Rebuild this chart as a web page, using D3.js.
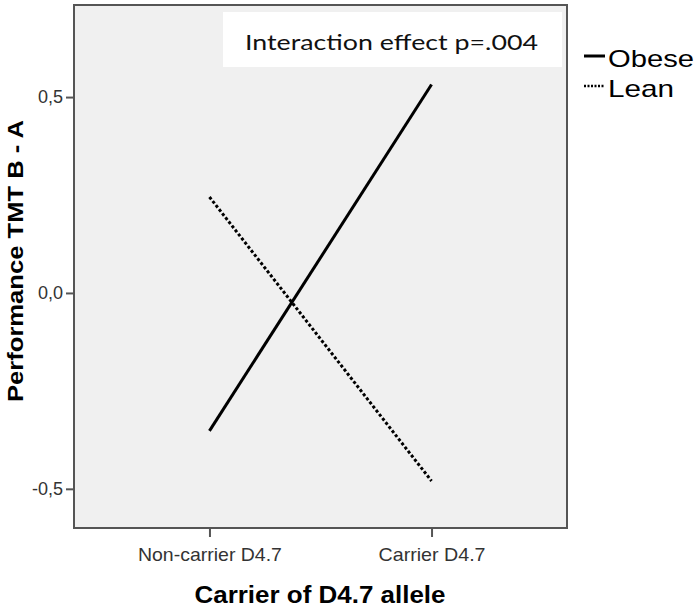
<!DOCTYPE html>
<html><head><meta charset="utf-8">
<script src="https://cdn.jsdelivr.net/npm/d3@7"></script>
<style>body{margin:0;background:#fff;} svg{display:block;}</style>
</head><body>
<svg id="c" width="700" height="608"></svg>
<script>
const categories = ["Non-carrier D4.7", "Carrier D4.7"];
const obese = [-0.352, 0.532];
const lean = [0.245, -0.48];
const seriesNames = ["Obese", "Lean"];
const yTicks = [-0.5, 0.0, 0.5];
const annotation = "Interaction effect p=.004";

const svg = d3.select("#c");
const L = 74, R = 567, T = 5, B = 528;
const x = d3.scalePoint().domain(categories).range([L, R]).padding(0.61);
const y = d3.scaleLinear().domain([-0.6, 0.735]).range([B, T]);
const AR = "Liberation Sans, Arial, sans-serif";

svg.append("rect").attr("x", L).attr("y", T).attr("width", R - L).attr("height", B - T)
  .attr("fill", "#f0f0f0");

// annotation box
svg.append("rect").attr("x", 223).attr("y", 12).attr("width", 339).attr("height", 55).attr("fill", "#fff");
svg.append("text").attr("x", 245).attr("y", 50)
  .attr("font-family", "Lato, 'Open Sans', sans-serif").attr("font-size", 22).attr("fill", "#111")
  .attr("textLength", 293).attr("lengthAdjust", "spacingAndGlyphs")
  .text(annotation);

const line = d3.line().x((d, i) => x(categories[i])).y(d => y(d));
svg.append("path").datum(obese).attr("d", line).attr("fill", "none")
  .attr("stroke", "#000").attr("stroke-width", 3);
svg.append("path").datum(lean).attr("d", line).attr("fill", "none")
  .attr("stroke", "#000").attr("stroke-width", 3).attr("stroke-dasharray", "3,2.2");

// frame
svg.append("rect").attr("x", L).attr("y", T).attr("width", R - L).attr("height", B - T)
  .attr("fill", "none").attr("stroke", "#555").attr("stroke-width", 2);

const fmt = v => d3.format(".1f")(v).replace(".", ",").replace("−", "-");
const yAxis = svg.append("g").attr("transform", `translate(${L},0)`)
  .call(d3.axisLeft(y).tickValues(yTicks).tickSize(8).tickSizeOuter(0).tickFormat(fmt));
yAxis.select(".domain").remove();
yAxis.selectAll("line").attr("stroke", "#555").attr("stroke-width", 2);
yAxis.selectAll("text").attr("font-family", AR)
  .attr("font-size", 18).attr("fill", "#333").attr("x", -11);

const xLabelWidths = {"Non-carrier D4.7": 144, "Carrier D4.7": 107};
const xAxis = svg.append("g").attr("transform", `translate(0,${B})`)
  .call(d3.axisBottom(x).tickSize(9).tickSizeOuter(0));
xAxis.select(".domain").remove();
xAxis.selectAll("line").attr("stroke", "#555").attr("stroke-width", 2);
xAxis.selectAll("text").attr("font-family", AR)
  .attr("font-size", 19).attr("fill", "#333").attr("y", 20).attr("dy", "0.7em")
  .attr("textLength", d => xLabelWidths[d]).attr("lengthAdjust", "spacingAndGlyphs");

svg.append("text").attr("x", 320).attr("y", 603).attr("text-anchor", "middle")
  .attr("font-family", AR).attr("font-weight", "bold")
  .attr("font-size", 23).attr("fill", "#000")
  .attr("textLength", 251).attr("lengthAdjust", "spacingAndGlyphs")
  .text("Carrier of D4.7 allele");
svg.append("text").attr("transform", "translate(23,261) rotate(-90)").attr("text-anchor", "middle")
  .attr("font-family", AR).attr("font-weight", "bold")
  .attr("font-size", 22).attr("fill", "#000")
  .attr("textLength", 282).attr("lengthAdjust", "spacingAndGlyphs")
  .text("Performance TMT B - A");

// legend
const legW = [86, 66];
const leg = svg.append("g");
seriesNames.forEach((n, i) => {
  const yy = 56 + i * 30;
  leg.append("line").attr("x1", 584).attr("x2", 605).attr("y1", yy).attr("y2", yy)
    .attr("stroke", "#000").attr("stroke-width", i === 0 ? 3 : 2.5)
    .attr("stroke-dasharray", i === 0 ? null : "2,1.5");
  leg.append("text").attr("x", 608).attr("y", yy + 11).attr("font-family", AR)
    .attr("font-size", 24).attr("fill", "#000")
    .attr("textLength", legW[i]).attr("lengthAdjust", "spacingAndGlyphs").text(n);
});
</script>
</body></html>
